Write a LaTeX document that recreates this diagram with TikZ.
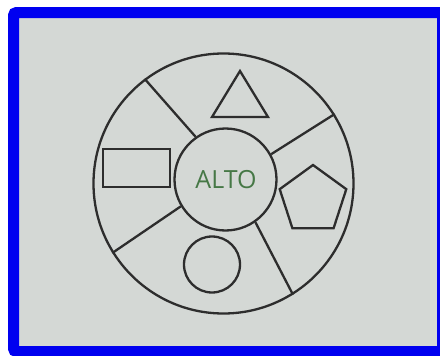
\documentclass[tikz,border=0pt]{standalone}
\usepackage{fontspec}
\usepackage{tikz}
\usetikzlibrary{shapes.geometric}
\newfontfamily\labelfont{Open Sans}
\definecolor{frameblue}{RGB}{0,0,240}
\definecolor{panel}{RGB}{212,216,213}
\definecolor{inkgray}{RGB}{45,45,45}
\definecolor{altogreen}{RGB}{70,120,70}
\tikzset{
  outline/.style={draw=inkgray, line width=2.3pt},
  ring/.style={outline, circle, inner sep=0pt},
  figure/.style={outline, inner sep=0pt},
  hublab/.style={font=\labelfont\fontsize{25}{25}\selectfont, text=altogreen},
}

\begin{document}
\begin{tikzpicture}[x=1pt, y=-1pt]
  % --- frame and panel ---
  \useasboundingbox (0,0) rectangle (440,356);
  \fill[panel] (13.5,12.5) rectangle (442.5,351.5);
  \draw[frameblue, line width=11pt, rounded corners=3pt] (13.5,12.5) rectangle (442.5,351.5);

  % --- wheel ---
  \node[ring, minimum size=260pt] (wheel) at (223.5,183.5) {};
  \node[ring, minimum size=102pt] (hub) at (225.5,179.5) {};
  \node[hublab] (alto) at (226,180) {ALTO};

  % spokes
  \draw[outline] (hub.125.7) -- (wheel.127.1);
  \draw[outline] (hub.29.2) -- (wheel.32.6);
  \draw[outline] (hub.305) -- (wheel.302.4);
  \draw[outline] (hub.211.1) -- (wheel.212.7);

  % --- shapes in the sectors ---
  \draw[outline] (240,71) -- (212,117) -- (268,117) -- cycle;
  \node[figure, regular polygon, regular polygon sides=5, minimum size=70pt] (penta) at (313,200) {};
  \node[figure, ring, minimum size=56pt] (dot) at (212,264.5) {};
  \node[figure, rectangle, minimum width=67pt, minimum height=38pt] (box) at (136.5,168) {};
\end{tikzpicture}
\end{document}
